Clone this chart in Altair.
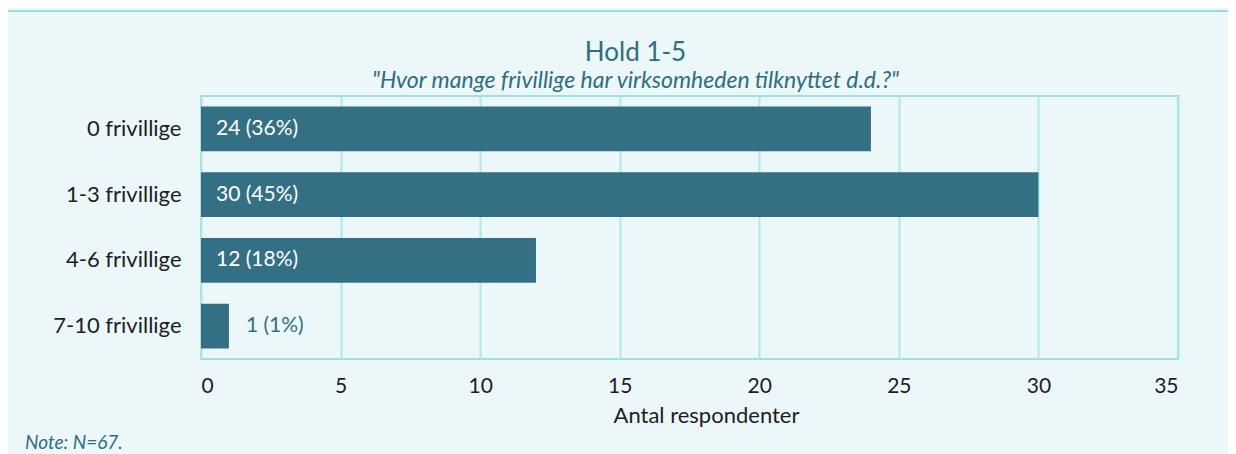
import altair as alt
import pandas as pd

# ---- data ----
categories = ["0 frivillige", "1-3 frivillige", "4-6 frivillige", "7-10 frivillige"]
counts = [24, 30, 12, 1]
percents = [36, 45, 18, 1]
x_ticks = [0, 5, 10, 15, 20, 25, 30, 35]
title_text = "Hold 1-5"
subtitle_text = '"Hvor mange frivillige har virksomheden tilknyttet d.d.?"'
x_title = "Antal respondenter"
note_text = "Note: N=67."

df = pd.DataFrame({"cat": categories, "n": counts, "pct": percents})
df["label"] = [f"{n} ({p}%)" for n, p in zip(counts, percents)]

# ---- style ----
FONT = "Lato"
BG = "#ebf7f8"
FRAME = "#9cdcdc"
PLOTBORDER = "#9ee0e1"
GRID = "#aee8e8"
BAR = "#347084"
TEAL = "#2f6e80"
INK = "#1e1e1e"

W, H = 977, 263
PL, PT = 193, 88
PR = 1220 - PL - W
PB = 446 - PT - H

y_enc = alt.Y(
    "cat:N",
    sort=categories,
    title=None,
    scale=alt.Scale(paddingInner=0.32, paddingOuter=0.16),
    axis=alt.Axis(labelFontSize=22, labelColor=INK, labelFont=FONT,
                  labelPadding=20, ticks=False, domain=False),
)
x_enc = alt.X(
    "n:Q",
    scale=alt.Scale(domain=[0, 35], nice=False),
    axis=alt.Axis(values=x_ticks, title=x_title, grid=True, gridColor=GRID,
                  gridWidth=2, ticks=False, domain=False,
                  labelFontSize=21, labelColor=INK, labelFont=FONT, labelPadding=16,
                  titleFontSize=22, titleColor=INK, titleFont=FONT,
                  titleFontWeight="normal", titleX=505, titleY=63,
                  titleBaseline="alphabetic", titleAlign="center"),
)

base = alt.Chart(df)

bars = base.mark_bar(color=BAR).encode(x=x_enc, y=y_enc)

inside = base.transform_filter("datum.n >= 3").transform_calculate(zero="0").mark_text(
    align="left", baseline="middle", dx=15, color="white", fontSize=21, font=FONT
).encode(x="zero:Q", y=alt.Y("cat:N", sort=categories), text="label:N")

outside = base.transform_filter("datum.n < 3").mark_text(
    align="left", baseline="middle", dx=17, color=BAR, fontSize=21, font=FONT
).encode(x="n:Q", y=alt.Y("cat:N", sort=categories), text="label:N")

one = pd.DataFrame({"t": [note_text]})
note = alt.Chart(one).mark_text(
    align="left", baseline="alphabetic", fontStyle="italic", fontSize=19,
    color=TEAL, font=FONT
).encode(x=alt.value(-176), y=alt.value(353), text="t:N")

left_border = alt.Chart(one).mark_rule(color=FRAME, strokeWidth=2).encode(
    x=alt.value(-194), y=alt.value(-85), y2=alt.value(H + PB))
top_border = alt.Chart(one).mark_rule(color=FRAME, strokeWidth=2).encode(
    x=alt.value(-195), x2=alt.value(W + PR), y=alt.value(-85))

chart = alt.layer(bars, inside, outside, note, left_border, top_border).properties(
    width=W,
    height=H,
    autosize=alt.AutoSizeParams(type="none"),
    padding={"left": PL, "top": PT, "right": PR, "bottom": PB},
    title=alt.TitleParams(
        title_text, subtitle=subtitle_text, fontSize=26, subtitleFontSize=23,
        subtitleFontStyle="italic", color=TEAL, subtitleColor=TEAL,
        font=FONT, subtitleFont=FONT, fontWeight="normal", anchor="middle",
        frame="group", dx=-54, offset=-83, subtitlePadding=4,
    ),
).configure(background=BG).configure_view(stroke=PLOTBORDER, strokeWidth=2)

chart.save("out.html", embed_options={"renderer": "svg", "actions": False})
